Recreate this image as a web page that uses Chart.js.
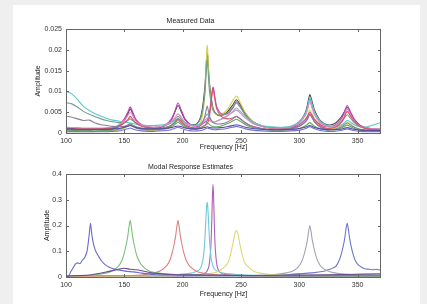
<!DOCTYPE html>
<html><head><meta charset="utf-8">
<script src="https://cdn.jsdelivr.net/npm/chart.js@4/dist/chart.umd.min.js"></script>
<style>
html,body{margin:0;padding:0;background:#efefef;width:427px;height:304px;overflow:hidden;}
#fig{position:absolute;left:13px;top:5px;width:407px;height:299px;background:#fff;}
canvas{position:absolute;left:0;}
#c1{top:0;} #c2{top:152px;}
</style></head>
<body>
<div id="fig"></div>
<canvas id="c1" width="427" height="152"></canvas>
<canvas id="c2" width="427" height="152"></canvas>
<script>
// ---------- shared axis ----------
const xTicks = [100,150,200,250,300,350];
const xTickLabels = ['100','150','200','250','300','350'];
const xMin = 100, xMax = 370;

// ---------- top panel: Measured Data (amplitude x 1e-3) ----------
const topTicks = [0,0.005,0.01,0.015,0.02,0.025];
const topTickLabels = ['0','0.005','0.01','0.015','0.02','0.025'];
const measFreq = [100,105,110,115,120,125,130,135,140,145,150,153,155,157,160,165,170,175,180,185,190,193,196,199,202,207,212,216,219,221,223,226,229,233,238,243,246,249,254,260,268,276,285,293,300,305,307,309,311,313,318,324,330,335,338,341,344,347,352,358,364,370];
const meas01 = [0.8,0.7,0.7,0.7,0.7,0.8,0.8,0.9,1.0,1.5,3.0,4.6,5.8,4.8,3.0,1.8,1.3,1.2,1.3,1.8,3.0,4.8,6.6,5.0,3.2,2.0,2.2,4.5,11,19.5,12,6,4.5,4.2,5.0,6.8,8.0,7.0,4.6,2.8,1.7,1.3,1.2,1.5,2.6,4.8,6.8,9.2,7.5,5.5,3.0,2.0,2.2,3.5,4.8,6.2,4.8,3.2,1.8,1.2,1.0,0.9];
const meas02 = [0.3,0.3,0.3,0.3,0.3,0.35,0.4,0.45,0.5,0.7,1.2,1.8,2.2,1.9,1.3,0.8,0.6,0.6,0.7,0.9,1.5,2.4,3.4,2.6,1.7,1.1,1.3,3.0,9,21,11,5.5,4.5,4.5,5.5,7.8,8.9,7.5,4.8,2.8,1.6,1.1,0.9,1.0,1.6,3.0,4.2,5.5,4.6,3.4,1.9,1.1,1.1,1.6,2.1,2.6,2.1,1.5,0.9,0.6,0.5,0.5];
const meas03 = [0.9,0.9,0.85,0.8,0.8,0.85,0.9,1.0,1.2,1.8,3.4,5.0,6.3,5.2,3.2,2.0,1.5,1.3,1.4,1.9,3.2,5.0,7.2,5.4,3.4,2.0,1.6,2.0,2.6,3.0,5.0,11,6.5,4.6,4.6,6.0,7.5,6.5,4.2,2.5,1.6,1.2,1.1,1.3,2.0,3.2,4.0,5.0,4.2,3.2,2.0,1.5,1.8,3.0,4.5,6.6,5.0,3.4,1.9,1.2,0.9,0.8];
const meas04 = [1.2,1.1,1.0,1.0,1.0,1.0,1.0,1.1,1.2,1.5,2.4,3.2,4.0,3.4,2.4,1.6,1.3,1.1,1.1,1.3,1.8,2.6,3.4,2.8,2.0,1.4,1.2,1.4,1.8,2.2,4.0,10.5,6.0,4.0,3.4,3.6,4.0,3.5,2.4,1.6,1.1,0.9,0.9,1.1,1.6,2.6,3.4,4.6,3.8,2.8,1.6,1.1,1.3,2.2,3.4,5.2,4.0,2.8,1.6,1.0,0.8,0.7];
const meas05 = [10.0,9.4,8.0,6.4,5.4,4.6,4.0,3.5,3.1,2.9,2.6,2.5,2.4,2.3,2.1,1.9,1.8,1.8,1.9,2.1,2.5,3.0,3.5,3.0,2.5,2.0,1.9,2.4,3.6,4.6,3.5,2.6,2.8,3.3,4.0,5.2,6.0,5.3,3.8,2.6,1.8,1.5,1.4,1.7,2.8,4.6,6.2,8.6,6.8,5.0,2.8,1.8,1.5,1.8,2.3,3.0,2.6,2.0,1.5,1.5,2.0,2.6];
const meas06 = [7.3,7.0,6.2,5.2,4.5,3.9,3.4,3.0,2.7,2.5,2.6,3.0,3.4,3.0,2.4,1.8,1.5,1.4,1.5,1.8,2.4,3.2,4.0,3.3,2.4,1.8,2.0,4.0,9.5,17.5,10,5.5,4.5,4.2,4.8,6.2,7.2,6.3,4.2,2.6,1.6,1.2,1.1,1.4,2.4,4.2,6.0,8.2,6.6,4.8,2.6,1.6,1.6,2.4,3.4,4.4,3.5,2.5,1.5,1.0,0.9,0.9];
const meas07 = [4.0,3.8,3.4,3.0,3.1,2.4,2.0,1.8,1.6,1.5,1.6,1.9,2.2,1.9,1.5,1.2,1.0,1.0,1.1,1.3,1.8,2.4,3.0,2.4,1.7,1.2,1.2,2.0,4.0,6.5,4.0,2.5,2.2,2.2,2.6,3.4,4.0,3.5,2.4,1.5,1.0,0.8,0.8,1.0,1.6,2.6,3.4,4.4,3.6,2.6,1.4,0.9,0.9,1.3,1.8,2.4,1.9,1.4,0.9,0.7,0.6,0.6];
const meas08 = [0.5,0.5,0.5,0.5,0.5,0.5,0.6,0.6,0.7,0.9,1.3,1.7,2.0,1.7,1.2,0.9,0.8,0.8,0.9,1.1,1.5,2.0,2.6,2.0,1.4,1.0,0.9,1.2,1.8,2.6,2.0,1.5,1.5,1.7,2.2,2.9,3.3,2.9,2.0,1.3,0.9,0.7,0.7,0.8,1.1,1.7,2.1,2.5,2.1,1.6,1.0,0.7,0.8,1.1,1.5,1.9,1.5,1.1,0.7,0.5,0.4,0.4];
const meas09 = [0.3,0.3,0.3,0.3,0.3,0.3,0.3,0.3,0.4,0.5,0.8,1.0,1.2,1.0,0.7,0.5,0.4,0.4,0.5,0.6,0.8,1.1,1.4,1.1,0.8,0.5,0.5,0.6,0.9,1.2,1.0,0.8,0.8,0.9,1.1,1.4,1.6,1.4,1.0,0.7,0.5,0.4,0.4,0.5,0.7,1.0,1.3,1.6,1.3,1.0,0.6,0.4,0.4,0.6,0.8,1.0,0.8,0.6,0.4,0.3,0.3,0.3];
const meas10 = [1.4,1.3,1.3,1.2,1.2,1.2,1.2,1.3,1.4,1.9,3.0,4.2,5.0,4.3,2.8,1.9,1.5,1.4,1.5,1.9,2.7,3.6,4.6,3.7,2.6,1.8,1.7,2.2,3.0,3.6,3.0,2.6,2.8,3.3,4.2,5.0,5.5,4.9,3.5,2.3,1.5,1.2,1.2,1.5,2.5,4.2,5.6,7.5,5.9,4.4,2.4,1.5,1.6,2.6,3.8,5.8,4.3,3.0,1.7,1.2,1.0,1.0];
const meas11 = [1.0,1.0,0.9,0.9,0.9,0.9,0.9,0.9,1.0,1.1,1.4,1.6,1.8,1.6,1.3,1.1,1.0,1.0,1.0,1.1,1.3,1.5,1.7,1.5,1.2,1.0,1.0,1.1,1.3,1.5,1.3,1.2,1.2,1.3,1.5,1.8,2.0,1.8,1.4,1.1,0.9,0.8,0.8,0.9,1.1,1.4,1.6,1.8,1.6,1.3,1.0,0.8,0.8,0.9,1.1,1.3,1.1,0.9,0.7,0.6,0.6,0.6];
const measSeries = [meas09,meas11,meas08,meas07,meas04,meas10,meas05,meas06,meas03,meas02,meas01];
const measColors = ['#6f6fe0','#5a4a9a','#5fa85f','#8a7f9a','#e0506a','#e08ac8','#5cc8c8','#6f9f90','#c040b8','#d2d250','#4a4a4a'];

// ---------- bottom panel: Modal Response Estimates ----------
const botTicks = [0,0.1,0.2,0.3,0.4];
const botTickLabels = ['0','0.1','0.2','0.3','0.4'];
const m1f = [100,102,104,106,108,110,112,114,116,118,119,120,121,122,123,124,126,128,130,133,137,142,148,152,158,165,175,190,220,260,300,340,370];
const m1a = [0.0,0.002,0.02,0.035,0.05,0.055,0.052,0.065,0.075,0.1,0.13,0.17,0.21,0.17,0.14,0.12,0.095,0.08,0.065,0.05,0.038,0.03,0.025,0.022,0.02,0.015,0.01,0.008,0.006,0.005,0.005,0.005,0.005];
const m2f = [100,115,125,135,140,145,148,150,152,153,154,155,156,157,158,160,162,165,170,175,185,200,220,250,300,370];
const m2a = [0.004,0.006,0.009,0.016,0.024,0.042,0.065,0.094,0.135,0.16,0.195,0.22,0.195,0.16,0.135,0.094,0.068,0.045,0.026,0.018,0.012,0.008,0.006,0.005,0.004,0.003];
const m3f = [100,156,166,176,181,186,189,191,193,194,195,196,197,198,199,201,203,206,211,216,226,241,261,291,340,370];
const m3a = [0.003,0.006,0.009,0.016,0.024,0.042,0.065,0.094,0.135,0.16,0.195,0.22,0.195,0.16,0.135,0.094,0.065,0.042,0.024,0.016,0.010,0.007,0.005,0.004,0.003,0.003];
const m4f = [100,150,180,196,206,211,215,217,218,219,220,220.5,221,221.5,222,223,224,225,227,231,236,246,261,300,370];
const m4a = [0.002,0.004,0.007,0.01,0.014,0.02,0.032,0.058,0.089,0.145,0.232,0.273,0.29,0.273,0.232,0.145,0.089,0.058,0.032,0.02,0.014,0.01,0.007,0.004,0.003];
const m5f = [100,160,190,206,216,220,222,223,224,224.5,225,225.5,226,226.5,227,227.5,228,229,230,232,236,246,266,300,370];
const m5a = [0.002,0.003,0.005,0.006,0.01,0.018,0.034,0.057,0.107,0.154,0.226,0.314,0.36,0.314,0.226,0.154,0.107,0.057,0.034,0.018,0.01,0.006,0.004,0.003,0.002];
const m6f = [100,180,196,216,226,231,236,239,241,242,243,244,245,246,247,248,249,250,251,253,256,261,266,276,296,330,370];
const m6a = [0.002,0.004,0.006,0.01,0.015,0.022,0.04,0.0575,0.086,0.107,0.129,0.153,0.173,0.18,0.173,0.153,0.129,0.107,0.086,0.0575,0.04,0.022,0.015,0.01,0.006,0.004,0.003];
const m7f = [100,200,259,279,289,294,299,302,304,306,307,308,309,310,311,312,314,316,319,324,329,339,354,370];
const m7a = [0.003,0.004,0.006,0.01,0.016,0.022,0.038,0.06,0.086,0.123,0.146,0.178,0.20,0.178,0.146,0.123,0.086,0.06,0.038,0.024,0.017,0.011,0.008,0.007];
const m8f = [100,200,271,291,311,321,326,331,334,336,338,339,340,341,342,343,344,346,348,351,356,360,363,366,370];
const m8a = [0.003,0.004,0.006,0.01,0.016,0.022,0.03,0.04,0.063,0.09,0.128,0.153,0.187,0.21,0.187,0.153,0.128,0.09,0.063,0.045,0.032,0.03,0.028,0.03,0.026];
const m9f = [100,120,135,145,150,155,160,165,175,190,220,260,300,340,370];
const m9a = [0.004,0.008,0.02,0.03,0.034,0.03,0.028,0.024,0.015,0.01,0.008,0.006,0.008,0.01,0.012];
const modeFreqs = [m9f,m1f,m2f,m3f,m6f,m7f,m8f,m4f,m5f];
const modeAmps  = [m9a,m1a,m2a,m3a,m6a,m7a,m8a,m4a,m5a];
const modeColors = ['#6a4a8a','#6a6ad0','#7cc07c','#e08080','#dada78','#a4a4b4','#6a78cc','#70c8d8','#b060b8'];

// ---------- helpers ----------
const FONT = {family:'"Liberation Sans", Arial, sans-serif', size:7, weight:'normal'};
const boxPlugin = {
  id:'matlabBox',
  afterDatasetsDraw(chart){
    const {ctx, chartArea:a, scales:{x,y}} = chart;
    ctx.save();
    ctx.strokeStyle='#666'; ctx.lineWidth=1;
    ctx.strokeRect(Math.round(a.left)+0.5, Math.round(a.top)+0.5, Math.round(a.right-a.left)-1, Math.round(a.bottom-a.top));
    ctx.beginPath();
    const L=3;
    x.ticks.forEach(t=>{const px=Math.round(x.getPixelForValue(t.value))+0.5;
      ctx.moveTo(px,a.bottom); ctx.lineTo(px,a.bottom-L);
      ctx.moveTo(px,a.top); ctx.lineTo(px,a.top+L);});
    y.ticks.forEach(t=>{const py=Math.round(y.getPixelForValue(t.value))+0.5;
      ctx.moveTo(a.left,py); ctx.lineTo(a.left+L,py);
      ctx.moveTo(a.right,py); ctx.lineTo(a.right-L,py);});
    ctx.stroke();
    ctx.restore();
  }
};

function makeChart(id, datasets, cfg){
  return new Chart(document.getElementById(id), {
    type:'line',
    data:{datasets},
    options:{
      responsive:false, animation:false, devicePixelRatio:1,
      layout:{padding:{left:0,right:46,top:0,bottom:0}},
      elements:{point:{radius:0}, line:{borderWidth:1.1, tension:0.25}},
      plugins:{legend:{display:false}, tooltip:{enabled:false},
        title:{display:true, text:cfg.title, color:'#222', font:{...FONT, lineHeight:1},
          padding:{top:cfg.titlePadTop,bottom:cfg.titlePadBottom}}},
      scales:{
        x:{type:'linear', min:xMin, max:xMax,
          afterBuildTicks:s=>{s.ticks = xTicks.map(v=>({value:v}));},
          afterFit:s=>{s.height = cfg.xHeight;},
          grid:{display:false, drawTicks:false}, border:{display:false},
          ticks:{autoSkip:false, maxRotation:0, padding:cfg.xTickPad, color:'#333', font:FONT,
            callback:(v,i)=>xTickLabels[i]},
          title:{display:true, text:'Frequency [Hz]', color:'#222', font:{...FONT, lineHeight:1}, padding:{top:0,bottom:cfg.xTitlePad}}},
        y:{type:'linear', min:cfg.yTicks[0], max:cfg.yTicks[cfg.yTicks.length-1],
          afterBuildTicks:s=>{s.ticks = cfg.yTicks.map(v=>({value:v}));},
          afterFit:s=>{s.width = 66;},
          grid:{display:false, drawTicks:false}, border:{display:false},
          ticks:{autoSkip:false, padding:4, color:'#333', font:FONT,
            callback:(v,i)=>cfg.yLabels[i]},
          title:{display:true, text:'Amplitude', color:'#222', font:{...FONT, lineHeight:1}, padding:{top:cfg.yTitlePad,bottom:0}}}
      }
    },
    plugins:[boxPlugin]
  });
}

const topSets = measSeries.map((vals,k)=>({
  data: measFreq.map((f,i)=>({x:f, y:vals[i]/1000})),
  borderColor: measColors[k], borderWidth:1.1, pointRadius:0, tension:0.25
}));
makeChart('c1', topSets, {title:'Measured Data', titlePadTop:17.5, titlePadBottom:4.5,
  xHeight:19, xTickPad:3.5, xTitlePad:1.5, yTitlePad:34.5, yTicks:topTicks, yLabels:topTickLabels});

const botSets = modeAmps.map((vals,k)=>({
  data: modeFreqs[k].map((f,i)=>({x:f, y:vals[i]})),
  borderColor: modeColors[k], borderWidth:1.1, pointRadius:0, tension:0.2
}));
makeChart('c2', botSets, {title:'Modal Response Estimates', titlePadTop:11.5, titlePadBottom:3.5,
  xHeight:27, xTickPad:3.8, xTitlePad:6.8, yTitlePad:43.2, yTicks:botTicks, yLabels:botTickLabels});
</script>
</body></html>
